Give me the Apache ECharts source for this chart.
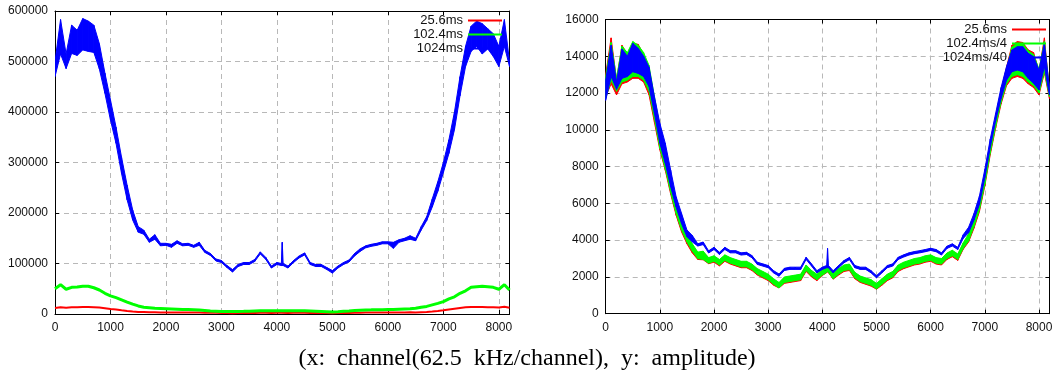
<!DOCTYPE html>
<html>
<head>
<meta charset="utf-8">
<script src="https://cdn.jsdelivr.net/npm/echarts@6/dist/echarts.min.js"></script>
<style>
html,body{margin:0;padding:0;background:#fff;}
#c{width:1063px;height:376px;}
</style>
</head>
<body>
<div id="c"></div>
<script>
// channel positions (shared by every series)
const channels = [
  0,100,200,300,400,500,600,700,800,900,
  1000,1100,1200,1300,1400,1500,1600,1700,1800,1900,
  2000,2100,2200,2300,2400,2500,2600,2700,2800,2900,
  3000,3100,3200,3300,3400,3500,3600,3700,3800,3900,
  4000,4080,4096,4112,4200,4300,4400,4500,4600,4700,
  4800,4900,5000,5100,5200,5300,5400,5500,5600,5700,
  5800,5900,6000,6100,6200,6300,6400,6500,6600,6700,
  6800,6900,7000,7100,7200,7300,7400,7500,7600,7700,
  7800,7900,8000,8100,8192
];
const xTicks = [0,1000,2000,3000,4000,5000,6000,7000,8000];
const leftYTicks = [0,100000,200000,300000,400000,500000,600000];
const rightYTicks = [0,2000,4000,6000,8000,10000,12000,14000,16000];
const leftNames = ['25.6ms','102.4ms','1024ms'];
const rightNames = ['25.6ms','102.4ms/4','1024ms/40'];
const caption = '(x:  channel(62.5  kHz/channel),  y:  amplitude)';

// ---- left panel (raw amplitude) ----
const leftRed = [
  12000,13500,12500,13500,13500,14000,14000,13500,12800,11500,
  10000,8800,7300,6000,5000,4200,3900,3500,3400,3200,
  3100,3000,3100,3000,2950,2900,2900,2700,2500,2300,
  2200,1950,1700,1900,2000,2050,2100,2550,2300,2000,
  2250,2300,2400,2300,2100,2250,2350,2550,2150,1950,
  1950,1800,1650,1800,2000,2200,2650,2700,2800,2900,
  2950,3000,3000,2900,3100,3200,3300,3100,3600,4000,
  5000,6100,7500,9000,10500,12000,13200,13800,14000,13800,
  13600,13400,12800,14200,12200
];
const leftGreen = [
  50000,58000,49000,52800,53500,55000,55000,52000,47500,41000,
  36000,32500,28000,23500,19500,16000,13500,12500,11500,11000,
  10500,10000,9500,9000,8800,8500,8000,7000,6000,5500,
  5000,5000,5000,5000,5200,5500,6000,6500,6500,6200,
  6500,6500,8500,6500,6500,6500,6500,6500,6000,5500,
  5000,4500,4000,4500,5500,6000,7000,7500,8000,8200,
  8500,8500,8800,9000,9500,10000,10500,11500,13500,15000,
  18000,21000,24500,30000,34000,41000,46000,52800,54000,55000,
  54000,52800,49000,58000,47500
];
const leftBlueHi = [
  500000,583000,515000,572000,562000,585000,580000,572000,535000,477000,
  424000,370000,310000,255000,206000,173000,166000,148000,157000,140000,
  140000,138000,145000,139000,140000,136000,142000,126000,120000,109000,
  106000,96000,88000,98000,102000,102000,108000,123000,112000,95000,
  102000,100000,142000,100000,95000,106000,115000,121000,102000,98000,
  98000,92000,86000,95000,102000,107000,120000,129000,135000,138000,
  140000,143000,143000,142000,147000,150000,155000,150000,173000,193000,
  228000,262000,300000,345000,400000,470000,530000,570000,580000,575000,
  565000,555000,530000,583000,500000
];
const leftBlueLo = [
  470000,515000,486000,516000,512000,523000,520000,518000,485000,437000,
  384000,338000,278000,226000,186000,162000,158000,142000,148000,135000,
  136000,132000,140000,135000,136000,132000,136000,122000,116000,105000,
  102000,92000,83000,94000,98000,98000,104000,119000,108000,91000,
  98000,96000,96000,96000,91000,102000,111000,117000,98000,94000,
  94000,88000,81000,91000,98000,103000,115000,124000,131000,134000,
  136000,139000,139000,130000,142000,145000,148000,145000,166000,185000,
  212000,243000,280000,318000,365000,432000,490000,520000,530000,515000,
  525000,510000,490000,530000,490000
];

// ---- right panel (normalised amplitude) ----
const rightRedHi = [
  13000,15000,12700,14600,14100,14700,14650,14100,13300,11600,
  10000,8900,7400,5950,5000,4150,3700,3300,3350,3000,
  3100,2900,3150,3000,2900,2800,2800,2650,2400,2250,
  2100,1850,1650,1950,2000,2050,2100,2600,2300,2100,
  2350,2500,2550,2500,2150,2400,2600,2650,2200,2000,
  1900,1800,1600,1850,2100,2250,2600,2750,2850,2950,
  3000,3100,3150,3000,2950,3250,3400,3200,3800,4250,
  5000,5950,7400,9150,10600,12100,13400,14600,14800,14750,
  14350,14200,13200,15000,12100
];
const rightRedLo = [
  11800,12500,11900,12500,12600,12800,12800,12600,11900,10400,
  8900,7800,6500,5350,4450,3800,3300,2950,2930,2720,
  2800,2600,2850,2700,2600,2500,2500,2350,2100,1950,
  1800,1550,1400,1650,1700,1750,1800,2300,2000,1800,
  2080,2230,2280,2230,1880,2100,2300,2350,1900,1700,
  1600,1500,1330,1550,1800,1950,2300,2450,2550,2650,
  2700,2800,2850,2700,2650,2950,3100,2900,3500,3900,
  4650,5550,6950,8650,10100,11400,12400,12800,12900,12800,
  12500,12300,11900,13100,11700
];
const rightGreenHi = [
  12900,14750,12800,14550,14200,14800,14600,14200,13500,11800,
  10200,9000,7500,6050,5100,4250,3800,3350,3400,3050,
  3150,2950,3200,3050,2950,2850,2850,2700,2450,2300,
  2150,1900,1700,2000,2050,2100,2150,2650,2350,2150,
  2400,2550,2600,2550,2200,2450,2650,2700,2250,2050,
  1950,1850,1650,1900,2150,2300,2650,2800,2900,3000,
  3050,3150,3200,3050,3000,3300,3450,3250,3850,4350,
  5100,6050,7500,9250,10700,12150,13300,14500,14700,14700,
  14300,14100,13300,14800,12200
];
const rightGreenLo = [
  11700,12700,12100,12600,12700,12900,12900,12700,12100,10600,
  9000,7900,6600,5450,4550,3900,3400,3000,2950,2750,
  2850,2650,2900,2750,2650,2550,2550,2400,2150,2000,
  1850,1600,1400,1700,1750,1800,1850,2350,2050,1850,
  2100,2250,2300,2250,1900,2150,2350,2400,1950,1750,
  1650,1550,1350,1600,1850,2000,2350,2500,2600,2700,
  2750,2850,2900,2750,2700,3000,3150,2950,3550,3950,
  4750,5650,7050,8750,10200,11500,12500,12900,13000,12900,
  12600,12400,12000,13200,11800
];
const rightBlueHi = [
  12700,14600,12600,14400,14000,14700,14430,14000,13400,11800,
  10350,9270,7800,6360,5460,4550,4250,3800,3900,3420,
  3610,3340,3610,3430,3430,3310,3340,3160,2800,2710,
  2620,2340,2160,2470,2530,2530,2530,3070,2710,2340,
  2530,2620,3550,2620,2340,2620,2890,3060,2620,2530,
  2530,2340,2070,2340,2620,2710,3070,3200,3310,3380,
  3430,3490,3560,3490,3310,3670,3800,3610,4290,4700,
  5450,6400,7850,9500,10900,12300,13440,14340,14520,14520,
  14160,13980,13250,14700,12300
];
const rightBlueLo = [
  11600,12900,12200,12800,12900,13160,13070,12900,12350,10900,
  9270,8180,6900,5800,4900,4190,3900,3680,3760,3300,
  3490,3220,3490,3310,3310,3190,3220,3040,2680,2590,
  2500,2220,2040,2350,2410,2410,2410,2950,2590,2220,
  2410,2500,2500,2500,2220,2500,2770,2940,2500,2410,
  2410,2220,1950,2220,2500,2590,2950,3080,3190,3260,
  3310,3370,3440,3370,3190,3550,3680,3490,4090,4400,
  5100,5950,7400,9050,10500,11700,12700,13160,13250,13160,
  12800,12530,12170,13440,11900
];

const RED = '#ff0000', GREEN = '#00ff00', BLUE = '#0000ff';
const COLORS = [RED, GREEN, BLUE];

function pairs(ys) { return channels.map((x, i) => [x, ys[i]]); }

function lineSeries(name, ys, color, width, xi, yi) {
  return {
    type: 'line', name, color, xAxisIndex: xi, yAxisIndex: yi,
    data: pairs(ys), symbol: 'none', showSymbol: false,
    lineStyle: { color, width }, itemStyle: { color }, clip: true
  };
}
// band between a lower and an upper envelope, drawn segment by segment
function bandSeries(name, hi, lo, color, xi, yi) {
  const data = channels.slice(0, -1).map((x, i) =>
    [x, hi[i], lo[i], channels[i + 1], hi[i + 1], lo[i + 1]]);
  return {
    type: 'custom', name, color, xAxisIndex: xi, yAxisIndex: yi, clip: true,
    itemStyle: { color },
    encode: { x: [0, 3], y: [1, 2, 4, 5] },
    data,
    renderItem: function (params, api) {
      const p1 = api.coord([api.value(0), api.value(1)]);
      const p2 = api.coord([api.value(3), api.value(4)]);
      const p3 = api.coord([api.value(3), api.value(5)]);
      const p4 = api.coord([api.value(0), api.value(2)]);
      return {
        type: 'polygon',
        shape: { points: [p1, p2, p3, p4] },
        style: { fill: color, stroke: color, lineWidth: 1, lineJoin: 'round' }
      };
    }
  };
}

const FONT = 'Liberation Sans';
const gridColor = '#b8b8b8';

function xAxes(gi) {
  const base = { type: 'value', gridIndex: gi, min: 0, max: 8192, interval: 1000 };
  return [
    Object.assign({}, base, {
      position: 'bottom',
      axisLine: { show: true, onZero: false, lineStyle: { color: '#000', width: 1 } },
      axisTick: { show: true, inside: true, length: 4, lineStyle: { color: '#000' } },
      axisLabel: { show: true, margin: 8, fontFamily: FONT, fontSize: 12, color: '#111',
        showMaxLabel: false, formatter: v => xTicks.includes(v) ? String(v) : '' },
      splitLine: { show: true, lineStyle: { color: gridColor, type: [5, 4], width: 1 } }
    }),
    Object.assign({}, base, {
      position: 'top',
      axisLine: { show: true, onZero: false, lineStyle: { color: '#000', width: 1 } },
      axisTick: { show: true, inside: true, length: 4, lineStyle: { color: '#000' } },
      axisLabel: { show: false }, splitLine: { show: false }
    })
  ];
}
function yAxes(gi, ticks) {
  const base = { type: 'value', gridIndex: gi, min: ticks[0], max: ticks[ticks.length - 1],
    interval: ticks[1] - ticks[0] };
  return [
    Object.assign({}, base, {
      position: 'left',
      axisLine: { show: true, onZero: false, lineStyle: { color: '#000', width: 1 } },
      axisTick: { show: true, inside: true, length: 4, lineStyle: { color: '#000' } },
      axisLabel: { show: true, margin: 7, fontFamily: FONT, fontSize: 12, color: '#111',
        formatter: v => String(v) },
      splitLine: { show: true, lineStyle: { color: gridColor, type: [5, 4], width: 1 } }
    }),
    Object.assign({}, base, {
      position: 'right',
      axisLine: { show: true, onZero: false, lineStyle: { color: '#000', width: 1 } },
      axisTick: { show: true, inside: true, length: 4, lineStyle: { color: '#000' } },
      axisLabel: { show: false }, splitLine: { show: false }
    })
  ];
}

const series = [
  lineSeries(leftNames[0], leftRed, RED, 2, 0, 0),
  lineSeries(leftNames[1], leftGreen, GREEN, 3, 0, 0),
  bandSeries(leftNames[2], leftBlueHi, leftBlueLo, BLUE, 0, 0),
  bandSeries(rightNames[0], rightRedHi, rightRedLo, RED, 2, 2),
  bandSeries(rightNames[1], rightGreenHi, rightGreenLo, GREEN, 2, 2),
  bandSeries(rightNames[2], rightBlueHi, rightBlueLo, BLUE, 2, 2)
];

const legendCommon = {
  orient: 'vertical', align: 'right', icon: 'rect', itemWidth: 34, itemHeight: 2,
  itemGap: 1, padding: 0, selectedMode: false,
  textStyle: { fontFamily: FONT, fontSize: 13, color: '#111', padding: [0, 0, 0, 0] }
};
function legendData(names) {
  return names.map((n, i) => ({ name: n, icon: 'rect',
    itemStyle: { color: COLORS[i], borderWidth: 0, opacity: 1 } }));
}

const chart = echarts.init(document.getElementById('c'), null, { renderer: 'canvas' });
chart.setOption({
  animation: false,
  backgroundColor: '#fff',
  grid: [
    { left: 55, right: 553.5, top: 11, bottom: 62, containLabel: false },
    { left: 605.7, right: 13.6, top: 19.5, bottom: 62.3, containLabel: false }
  ],
  xAxis: xAxes(0).concat(xAxes(1)),
  yAxis: yAxes(0, leftYTicks).concat(yAxes(1, rightYTicks)),
  legend: [
    Object.assign({}, legendCommon, { data: legendData(leftNames), right: 561, top: 14 }),
    Object.assign({}, legendCommon, { data: legendData(rightNames), right: 17, top: 23 })
  ],
  series,
  graphic: [{
    type: 'text', x: 527, y: 347,
    style: { text: caption, align: 'center',
      font: '24px "Liberation Serif", "Times New Roman", serif', fill: '#000' }
  }]
});
</script>
</body>
</html>
